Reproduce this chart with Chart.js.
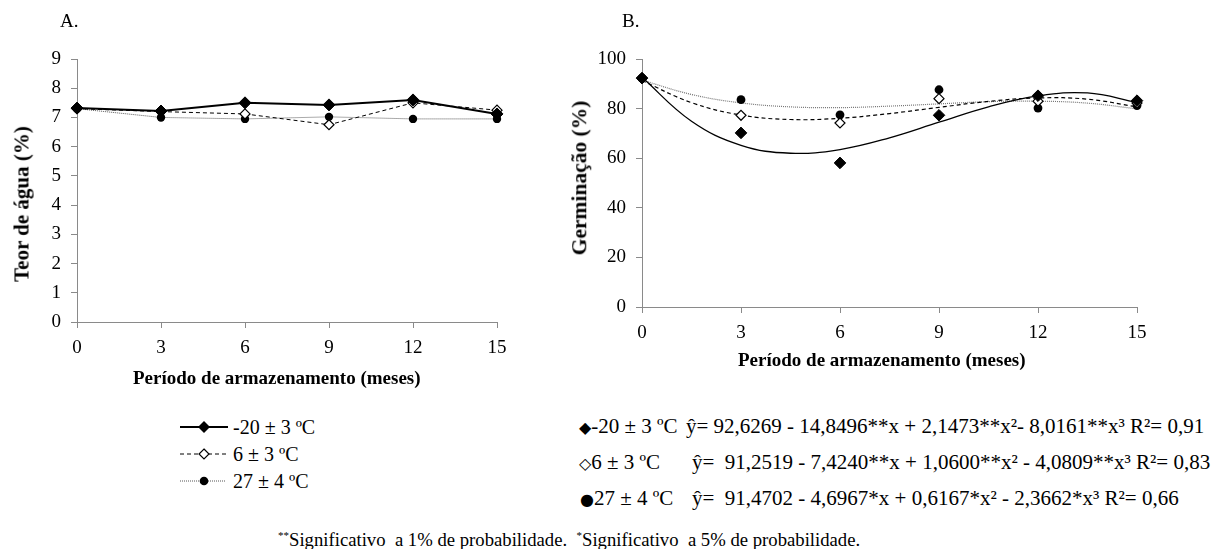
<!DOCTYPE html>
<html>
<head>
<meta charset="utf-8">
<script src="https://cdn.jsdelivr.net/npm/chart.js@4.4.1/dist/chart.umd.min.js"></script>
<style>
  html, body { margin: 0; padding: 0; background: #fff; }
  body { width: 1216px; height: 549px; position: relative; overflow: hidden;
         font-family: "Liberation Serif", "Times New Roman", serif; color: #000; }
  canvas { position: absolute; top: 0; }
  .t { position: absolute; white-space: pre; font-size: 20px; line-height: 1; }
  .e { font-size: 21px; }
  .b { font-weight: bold; }
  .rot { transform-origin: center center; transform: translate(-50%, -50%) rotate(-90deg); }
  .sym { font-family: "DejaVu Sans", sans-serif; font-size: 16px; }
  sup { font-size: 11px; vertical-align: 7px; line-height: 0; }
</style>
</head>
<body>
<canvas id="cA" width="520" height="400" style="left:0px"></canvas>
<canvas id="cB" width="696" height="400" style="left:520px"></canvas>

<div class="t" style="left:60px; top:11px; font-size:19px;">A.</div>
<div class="t" style="left:622px; top:11px; font-size:19px;">B.</div>

<div class="t b rot" style="left:22px; top:204px; font-size:21px;">Teor de água (%)</div>
<div class="t b rot" style="left:580px; top:178px; font-size:21.5px;">Germinação (%)</div>
<div class="t b" style="left:133px; top:368px; font-size:19px;">Período de armazenamento (meses)</div>
<div class="t b" style="left:738px; top:350px; font-size:19px;">Período de armazenamento (meses)</div>

<!-- legend of panel A -->
<svg style="position:absolute; left:176px; top:415px;" width="58" height="80">
  <line x1="4" y1="12" x2="52" y2="12" stroke="#000" stroke-width="2"/>
  <path d="M28 6 L34 12 L28 18 L22 12 Z" fill="#000"/>
  <line x1="4" y1="39" x2="52" y2="39" stroke="#000" stroke-width="1" stroke-dasharray="4,3"/>
  <path d="M28 34 L33 39 L28 44 L23 39 Z" fill="#fff" stroke="#000" stroke-width="1.2"/>
  <line x1="4" y1="66" x2="50" y2="66" stroke="#555" stroke-width="1" stroke-dasharray="1,1"/>
  <circle cx="28" cy="66" r="4.3" fill="#000"/>
</svg>
<div class="t" style="left:233px; top:417px;">-20 ± 3 ºC</div>
<div class="t" style="left:233px; top:444px;">6 ± 3 ºC</div>
<div class="t" style="left:233px; top:471px;">27 ± 4 ºC</div>

<!-- equations of panel B -->
<div class="t e" style="left:579px; top:416px;"><span class="sym">◆</span>-20 ± 3 ºC</div>
<div class="t e" style="left:686px; top:416px;">ŷ= 92,6269 - 14,8496**x + 2,1473**x²- 8,0161**x³ R²= 0,91</div>
<div class="t e" style="left:579px; top:452px;"><span class="sym">◇</span>6 ± 3 ºC</div>
<div class="t e" style="left:692px; top:452px;">ŷ=  91,2519 - 7,4240**x + 1,0600**x² - 4,0809**x³ R²= 0,83</div>
<div class="t e" style="left:580px; top:488px;"><span class="sym">●</span>27 ± 4 ºC</div>
<div class="t e" style="left:692px; top:488px;">ŷ=  91,4702 - 4,6967*x + 0,6167*x² - 2,3662*x³ R²= 0,66</div>

<div class="t" style="left:278px; top:531px; font-size:18.7px;"><sup>**</sup>Significativo  a 1% de probabilidade.  <sup>*</sup>Significativo  a 5% de probabilidade.</div>

<script>
// ---- data ----
const months = [0, 3, 6, 9, 12, 15];
const seriesNames = ['-20 ± 3 ºC', '6 ± 3 ºC', '27 ± 4 ºC'];

// Panel A: Teor de água (%)
const waterM20 = [7.32, 7.22, 7.50, 7.43, 7.60, 7.12];
const water6   = [7.30, 7.20, 7.12, 6.75, 7.50, 7.25];
const water27  = [7.30, 7.00, 6.95, 7.02, 6.95, 6.95];

// Panel B: Germinação (%)
const germM20 = [92.3, 70.2, 58.1, 77.3, 85.2, 83.2];
const germ6   = [92.3, 77.3, 74.2, 84.0, 83.0, 82.3];
const germ27  = [92.3, 83.6, 77.5, 87.6, 80.2, 81.2];

// Panel B: fitted curves
const trendX   = [0, 1.5, 3, 4.5, 6, 7.5, 9, 10.5, 12, 13.5, 15];
const trendM20 = [92.6, 74.9, 65.2, 62.0, 63.5, 68.2, 74.5, 80.7, 85.1, 86.3, 82.5];
const trend6   = [91.3, 82.4, 77.4, 75.6, 76.1, 78.0, 80.5, 82.9, 84.3, 83.8, 80.7];
const trend27  = [91.5, 85.7, 82.3, 80.7, 80.4, 81.0, 81.9, 82.8, 83.0, 82.2, 79.9];

const xTicks = [0, 3, 6, 9, 12, 15];
const yTicksA = [0, 1, 2, 3, 4, 5, 6, 7, 8, 9];
const yTicksB = [0, 20, 40, 60, 80, 100];

// ---- helpers ----
const pts = (xs, ys) => xs.map((x, i) => ({ x: x, y: ys[i] }));
const FONT = { family: '"Liberation Serif", serif', size: 19 };
const AX = '#8a8a8a';

function scales(yMin, yMax, yTicks, yWidth, xHeight) {
  return {
    x: {
      type: 'linear', min: 0, max: 15,
      afterBuildTicks: s => { s.ticks = xTicks.map(v => ({ value: v })); },
      afterFit: s => { s.height = xHeight; },
      grid: { drawOnChartArea: false, drawTicks: true, tickLength: 6, color: AX },
      border: { display: true, color: AX, width: 1 },
      ticks: { color: '#000', font: FONT, padding: 9, maxRotation: 0 }
    },
    y: {
      type: 'linear', min: yMin, max: yMax,
      afterBuildTicks: s => { s.ticks = yTicks.map(v => ({ value: v })); },
      afterFit: s => { s.width = yWidth; },
      grid: { drawOnChartArea: false, drawTicks: true, tickLength: 6, color: AX },
      border: { display: true, color: AX, width: 1 },
      ticks: { color: '#000', font: FONT, padding: 10 }
    }
  };
}

const commonOpts = {
  responsive: false, animation: false, devicePixelRatio: 1,
  plugins: { legend: { display: false }, tooltip: { enabled: false }, title: { display: false } },
  events: []
};

// ---- Panel A ----
new Chart(document.getElementById('cA'), {
  type: 'line',
  data: {
    datasets: [
      { label: seriesNames[0], data: pts(months, waterM20), borderColor: '#000', borderWidth: 2,
        pointStyle: 'rectRot', pointRadius: 6, pointBackgroundColor: '#000', pointBorderColor: '#000',
        pointBorderWidth: 1, tension: 0, clip: false },
      { label: seriesNames[1], data: pts(months, water6), borderColor: '#000', borderWidth: 1, borderDash: [4, 3],
        pointStyle: 'rectRot', pointRadius: 5, pointBackgroundColor: '#fff', pointBorderColor: '#000',
        pointBorderWidth: 1.2, tension: 0, clip: false },
      { label: seriesNames[2], data: pts(months, water27), borderColor: '#555', borderWidth: 1, borderDash: [1, 1],
        pointStyle: 'circle', pointRadius: 4.2, pointBackgroundColor: '#000', pointBorderColor: '#000',
        pointBorderWidth: 0, tension: 0, clip: false }
    ]
  },
  options: Object.assign({}, commonOpts, {
    layout: { padding: { left: 0, right: 23, top: 59, bottom: 0 } },
    scales: scales(0, 9, yTicksA, 77, 78)
  })
});

// ---- Panel B ----
new Chart(document.getElementById('cB'), {
  type: 'line',
  data: {
    datasets: [
      { label: seriesNames[0], data: pts(months, germM20), showLine: false,
        pointStyle: 'rectRot', pointRadius: 5.8, pointBackgroundColor: '#000', pointBorderColor: '#000',
        pointBorderWidth: 1, clip: false },
      { label: seriesNames[1], data: pts(months, germ6), showLine: false,
        pointStyle: 'rectRot', pointRadius: 5, pointBackgroundColor: '#fff', pointBorderColor: '#000',
        pointBorderWidth: 1.2, clip: false },
      { label: seriesNames[2], data: pts(months, germ27), showLine: false,
        pointStyle: 'circle', pointRadius: 4.4, pointBackgroundColor: '#000', pointBorderColor: '#000',
        pointBorderWidth: 0, clip: false },
      { label: 'fit ' + seriesNames[0], data: pts(trendX, trendM20), borderColor: '#000', borderWidth: 1.3,
        pointRadius: 0, tension: 0.4, clip: false },
      { label: 'fit ' + seriesNames[1], data: pts(trendX, trend6), borderColor: '#000', borderWidth: 1.2,
        borderDash: [4, 3], pointRadius: 0, tension: 0.4, clip: false },
      { label: 'fit ' + seriesNames[2], data: pts(trendX, trend27), borderColor: '#777', borderWidth: 1.2,
        borderDash: [1, 1], pointRadius: 0, tension: 0.4, clip: false }
    ]
  },
  options: Object.assign({}, commonOpts, {
    layout: { padding: { left: 0, right: 79, top: 59, bottom: 0 } },
    scales: scales(0, 100, yTicksB, 122, 93)
  })
});
</script>
</body>
</html>
